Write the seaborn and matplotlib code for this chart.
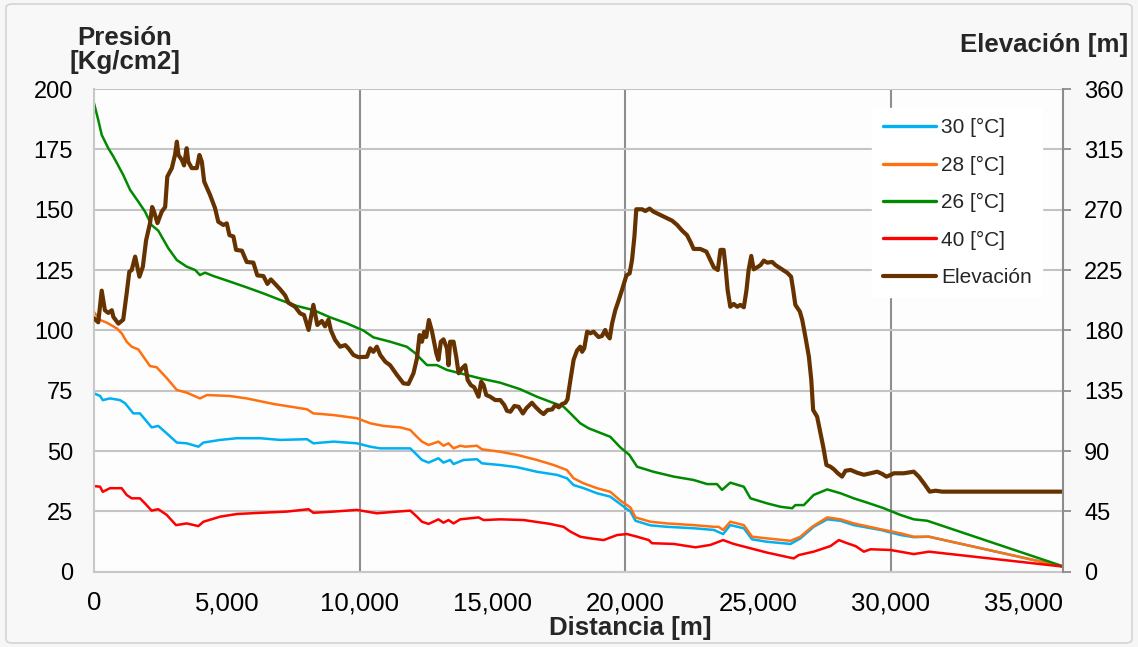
import matplotlib
matplotlib.use("Agg")
import matplotlib.pyplot as plt
from matplotlib.ticker import MultipleLocator, FixedLocator, FuncFormatter
from matplotlib.patches import FancyBboxPatch
import seaborn as sns

# ---------------- data ----------------
dist_elev = [0, 160, 290, 410, 540, 670, 730, 920, 1100, 1230,
             1330, 1420, 1550, 1710, 1840, 1960, 2110, 2190, 2260, 2390,
             2550, 2680, 2760, 2930, 3050, 3120, 3180, 3310, 3390, 3490,
             3550, 3680, 3870, 3970, 4060, 4150, 4370, 4560, 4680, 4870,
             5000, 5100, 5250, 5350, 5570, 5750, 6000, 6150, 6380, 6530,
             6660, 6820, 7010, 7200, 7320, 7570, 7760, 7910, 8080, 8260,
             8410, 8580, 8700, 8830, 8920, 9080, 9270, 9460, 9580, 9770,
             9960, 10280, 10400, 10520, 10650, 10780, 10970, 11150, 11410, 11650,
             11840, 12030, 12160, 12260, 12350, 12430, 12510, 12610, 12730, 12890,
             12970, 13060, 13160, 13290, 13350, 13410, 13540, 13640, 13730, 13860,
             13980, 14070, 14190, 14320, 14480, 14580, 14670, 14770, 14920, 15110,
             15300, 15450, 15550, 15680, 15830, 15990, 16150, 16280, 16490, 16620,
             16810, 16930, 17080, 17250, 17370, 17500, 17620, 17750, 17830, 17940,
             18060, 18190, 18310, 18380, 18460, 18570, 18690, 18810, 19000, 19130,
             19250, 19320, 19420, 19510, 19630, 19760, 19880, 20050, 20170, 20260,
             20350, 20420, 20640, 20760, 20920, 21070, 21330, 21580, 21770, 21960,
             22150, 22330, 22460, 22580, 22830, 23060, 23210, 23340, 23490, 23590,
             23710, 23780, 23860, 23960, 24090, 24220, 24340, 24470, 24570, 24650,
             24750, 24840, 24970, 25100, 25220, 25350, 25540, 25660, 25910, 26100,
             26250, 26330, 26410, 26580, 26670, 26790, 26920, 27010, 27080, 27230,
             27360, 27460, 27580, 27730, 27860, 28010, 28170, 28300, 28490, 28740,
             28990, 29240, 29490, 29680, 29840, 29990, 30120, 30490, 30870, 31060,
             31250, 31470, 31690, 31940, 36500]
elevacion = [189, 186, 209.6, 195, 193, 195, 190, 185, 188, 207.6,
             223.7, 225, 235, 220, 227.5, 247, 260, 272, 268.5, 260,
             268.5, 272, 294.6, 301, 310.8, 320.7, 310.8, 307, 303, 315.8,
             305.8, 301, 301, 310.8, 305.8, 290.9, 281, 271, 261, 258.6,
             259.8, 251, 250, 240, 239.4, 231, 230.5, 221, 220.5, 214.6,
             218, 214.6, 210.6, 206, 200.6, 197.6, 192.7, 191.4, 180.3, 199,
             184, 187, 183, 188, 180, 172.8, 167.8, 169, 166.6, 161.6,
             160, 160.3, 166.6, 164, 167.8, 161.6, 156.6, 154, 146.7, 140.5,
             140, 148, 159, 176.5, 171.5, 179, 175, 187.7, 179, 162.9,
             158, 171.5, 173.3, 166.6, 154, 171.5, 171.5, 160.3, 148, 151.7,
             154, 143, 139.2, 137.5, 130.5, 141.7, 139.2, 131.8, 130.5, 128,
             128, 124.3, 120, 119.3, 123.6, 123, 118, 121.9, 126, 123,
             119.3, 117.6, 120.6, 121, 124.3, 122.6, 125, 126, 128.6, 143,
             158, 165, 167.8, 164, 166.6, 179, 177.8, 179, 175, 175.8,
             180.3, 176.5, 174, 185.3, 195, 202.6, 210, 221, 222.5, 232.5,
             250, 270.3, 270.3, 269, 270.8, 268.5, 266, 263.6, 261.8, 258.6,
             254.3, 251, 246, 240.7, 240.7, 238.7, 232.5, 227, 225, 240,
             240, 227.5, 210, 197.6, 199.7, 197.6, 199, 197.2, 210, 225,
             235.5, 225.5, 227, 228.7, 232, 230.5, 231, 228.7, 225.5, 223,
             220, 210, 199, 194, 187.7, 175, 160.3, 143, 120.6, 115.6,
             103, 93.2, 79.6, 78.3, 76.4, 73.4, 70.9, 75.3, 75.9, 73.8,
             72.3, 73.4, 74.6, 72.9, 70.9, 72.1, 73.4, 73.4, 74.6, 70.9,
             65.9, 59.7, 60.4, 59.7, 59.7]

dist_30 = [0, 230, 330, 600, 980, 1170, 1480, 1730, 1990, 2170,
           2420, 2740, 3120, 3490, 3930, 4120, 4750, 5380, 6260, 7010,
           8020, 8260, 9020, 9900, 10400, 10780, 11910, 12160, 12350, 12600,
           12970, 13160, 13410, 13540, 13920, 14420, 14610, 15300, 15930, 16680,
           17440, 17810, 18060, 18440, 18940, 19440, 19820, 20200, 20390, 20950,
           21580, 22580, 23340, 23690, 23960, 24470, 24780, 25350, 26230, 26600,
           27100, 27610, 28110, 28610, 29620, 30370, 30870, 31440, 36500]
p_30 = [73.9, 72.8, 71.1, 71.8, 71.1, 69.8, 65.6, 65.6, 62.2, 59.8,
        60.4, 57.3, 53.5, 53.2, 51.8, 53.5, 54.6, 55.3, 55.3, 54.6,
        54.9, 53.2, 53.9, 53.2, 51.8, 51.1, 51.1, 48.4, 46.3, 45.2,
        47, 45.2, 46.3, 44.6, 46.3, 46.6, 44.9, 44.2, 43.3, 41.4,
        40.1, 38.7, 35.9, 34.6, 32.5, 31.1, 28, 24.9, 21.1, 19.2,
        18.6, 18, 17.3, 15.6, 19.3, 18, 13.4, 12.4, 11.5, 13.8,
        18.6, 21.7, 21.1, 19.3, 17.3, 15.2, 14.3, 14.5, 2.1]

dist_28 = [0, 230, 480, 860, 1040, 1230, 1420, 1670, 1860, 2110,
           2360, 2740, 3120, 3490, 3990, 4250, 5120, 5750, 6760, 8020,
           8260, 9020, 9900, 10400, 10900, 11530, 11910, 12160, 12350, 12600,
           12970, 13160, 13350, 13540, 13790, 13980, 14420, 14610, 15300, 15930,
           16680, 17310, 17810, 18060, 18440, 18940, 19440, 19820, 20200, 20390,
           20950, 21580, 22580, 23340, 23520, 23690, 23960, 24470, 24780, 25350,
           26230, 26600, 27040, 27610, 28110, 28610, 29620, 30370, 30870, 31440,
           36500]
p_28 = [107.6, 104.3, 103.2, 100.8, 98.8, 95.3, 93.2, 92.1, 89.1, 85.2,
        84.7, 80.2, 75.3, 74.2, 71.8, 73.2, 72.8, 71.8, 69.5, 67.3,
        65.6, 64.9, 63.6, 61.5, 60.4, 59.8, 58.7, 55.9, 53.9, 52.5,
        53.9, 52.2, 53.2, 51.1, 52.2, 51.8, 52.2, 50.7, 49.7, 48.4,
        46.3, 44.2, 42.1, 38.7, 36.6, 34.6, 33.1, 29.5, 26.6, 22.5,
        20.7, 20, 19.3, 18.6, 18.6, 17.3, 20.7, 19.3, 14.5, 13.8,
        12.8, 14.5, 18.6, 22.5, 21.7, 20, 17.6, 15.9, 14.5, 14.5,
        2.1]

dist_26 = [0, 160, 290, 540, 730, 1100, 1360, 1670, 1920, 2170,
           2420, 2800, 3120, 3490, 3810, 3990, 4180, 4500, 5120, 5750,
           6380, 7010, 7640, 8260, 8890, 9520, 10150, 10520, 11150, 11780,
           12100, 12350, 12540, 12910, 13290, 13790, 14540, 15300, 16050, 16680,
           17180, 17680, 17940, 18310, 18630, 19070, 19440, 19820, 20160, 20450,
           21070, 21830, 22580, 23090, 23460, 23650, 23960, 24470, 24720, 25350,
           25850, 26290, 26410, 26730, 27100, 27610, 28110, 28610, 29120, 29740,
           30370, 30870, 31380, 36500]
p_26 = [194.1, 187.2, 181, 175.4, 172, 164.4, 158.2, 153.3, 149.2, 143.6,
        141.3, 134, 129.1, 126.4, 125, 122.9, 123.9, 122.5, 120.2, 117.8,
        115.3, 112.6, 110.1, 108.4, 105.4, 102.9, 99.9, 97.1, 95.3, 93.2,
        90.5, 87.7, 85.6, 85.6, 83.6, 82.2, 80.1, 78.3, 75.6, 72.5,
        70.4, 68.4, 65.6, 61.5, 59.4, 57.5, 55.9, 51.5, 48.4, 43.5,
        41.4, 39.4, 38, 36.3, 36.3, 33.9, 36.9, 35.2, 30.4, 28.3,
        26.9, 26.3, 27.6, 27.6, 31.8, 34.1, 32.5, 30.4, 28.6, 26.3,
        23.5, 21.7, 21.1, 2.2]

dist_40 = [0, 230, 330, 600, 1040, 1230, 1420, 1730, 1920, 2170,
           2420, 2740, 3090, 3490, 3930, 4120, 4750, 5380, 6260, 7260,
           8080, 8260, 9020, 9900, 10650, 11410, 11910, 12160, 12350, 12600,
           12970, 13160, 13350, 13540, 13790, 14480, 14670, 15300, 16180, 17180,
           17680, 17940, 18310, 18690, 19190, 19700, 20070, 20450, 20890, 21010,
           21830, 22650, 23210, 23690, 24090, 24720, 25350, 26350, 26540, 27100,
           27730, 28050, 28360, 28680, 28990, 29240, 29990, 30870, 31440, 36500]
p_40 = [35.5, 35.2, 33.1, 34.6, 34.6, 31.8, 30.4, 30.4, 28.3, 25.3,
        25.9, 23.5, 19.3, 20, 18.9, 20.7, 22.8, 23.9, 24.4, 24.9,
        25.9, 24.4, 24.9, 25.6, 24.2, 24.9, 25.3, 22.8, 20.7, 19.8,
        21.7, 20.3, 21.4, 20, 21.7, 22.5, 21.4, 21.7, 21.4, 19.8,
        18.6, 16.6, 14.5, 13.8, 13.1, 15.2, 15.6, 14.5, 13.1, 11.8,
        11.5, 10.1, 11.1, 13.1, 11.5, 9.7, 7.9, 5.5, 6.9, 8.3,
        10.6, 13.1, 11.8, 10.6, 8.3, 9.3, 9, 7.3, 8.3, 2.1]

series_labels = ["30 [°C]", "28 [°C]", "26 [°C]", "40 [°C]"]
series_colors = ["#00b0f0", "#ff7010", "#008a00", "#ff0000"]
elev_label = "Elevación"
elev_color = "#663300"

pressure_ticks = list(range(0, 201, 25))
elev_ticks = list(range(0, 361, 45))

# ---------------- style ----------------
sns.set_style("white")
plt.rcParams["font.family"] = ["Liberation Sans", "DejaVu Sans"]

W, H = 1138, 647
fig = plt.figure(figsize=(W / 100, H / 100), dpi=100, facecolor="#f6f6f6")
fig.patches.append(FancyBboxPatch((6 / W, 4 / H), 1 - 12 / W, 1 - 8 / H,
                                  boxstyle="round,pad=0,rounding_size=0.006",
                                  transform=fig.transFigure, facecolor="#f8f8f8",
                                  edgecolor="#d4d4d4", linewidth=1.2, zorder=-5))

ax = fig.add_axes([94 / W, 75.3 / H, 969.3 / W, 482.7 / H])
ax.set_facecolor("#fdfdfd")
ax2 = ax.twinx()

pressure_x = [dist_30, dist_28, dist_26, dist_40]
pressure_y = [p_30, p_28, p_26, p_40]
for xs, ys, lab, col in zip(pressure_x, pressure_y, series_labels, series_colors):
    sns.lineplot(x=xs, y=ys, ax=ax, color=col, linewidth=1.8, label=lab,
                 estimator=None, sort=False)

sns.lineplot(x=dist_elev, y=elevacion, ax=ax2, color=elev_color, linewidth=3.0,
             label=elev_label, estimator=None, sort=False)

# ---------------- axes ----------------
ax.set_xlim(0, 36500)
ax.set_ylim(0, 200)
ax2.set_ylim(0, 360)
ax.set_yticks(pressure_ticks)
ax2.set_yticks(elev_ticks)

# vertical grid every 10 000 m, labels every 5 000 m
ax.xaxis.set_major_locator(FixedLocator([10000, 20000, 30000]))
ax.xaxis.set_minor_locator(MultipleLocator(5000))
fmt = FuncFormatter(lambda v, p: f"{int(v):,}")
ax.xaxis.set_major_formatter(fmt)
ax.xaxis.set_minor_formatter(fmt)

ax.set_axisbelow(True)
ax.grid(axis="y", color="#c4c4c4", linewidth=1.5)
ax.grid(axis="x", which="major", color="#8e8e8e", linewidth=1.5)
ax.grid(axis="x", which="minor", visible=False)

for s in ["top", "right"]:
    ax.spines[s].set_visible(False)
for s in ["left", "bottom"]:
    ax.spines[s].set_color("#c8c8c8")
    ax.spines[s].set_linewidth(1.5)
for s in ["left", "top", "bottom"]:
    ax2.spines[s].set_visible(False)
ax2.spines["right"].set_color("#8c8c8c")
ax2.spines["right"].set_linewidth(1.5)

ax.tick_params(axis="y", which="both", length=0, pad=15, labelsize=17, labelcolor="black")
ax.tick_params(axis="x", which="both", length=0, pad=14, labelsize=18.5, labelcolor="black")
ax2.tick_params(axis="y", length=6, width=1.3, color="#8c8c8c", direction="out",
                pad=9, labelsize=17, labelcolor="black")
ax.set_xlabel("")
ax.set_ylabel("")
ax2.set_ylabel("")

# ---------------- legend ----------------
h1, l1 = ax.get_legend_handles_labels()
h2, l2 = ax2.get_legend_handles_labels()
if ax.get_legend() is not None:
    ax.get_legend().remove()
leg = ax2.legend(h1 + h2, l1 + l2, loc="upper right",
                 bbox_to_anchor=(1042 / W, 1 - 108 / H), bbox_transform=fig.transFigure,
                 frameon=True, fancybox=False, framealpha=1, facecolor="white",
                 edgecolor="white", fontsize=15, handlelength=2.55,
                 handletextpad=0.25, labelspacing=0.88, borderpad=0.5,
                 borderaxespad=0)
for line in leg.get_lines()[:4]:
    line.set_linewidth(2.4)

# ---------------- titles ----------------
fig.text(125 / W, 1 - 50 / H, "Presión\n[Kg/cm2]", ha="center", va="center",
         fontsize=18.6, fontweight="bold", linespacing=1.05)
fig.text(1128 / W, 1 - 45 / H, "Elevación [m]", ha="right", va="center",
         fontsize=18.6, fontweight="bold")
fig.text(630 / W, 1 - 628 / H, "Distancia [m]", ha="center", va="center",
         fontsize=18.6, fontweight="bold")

fig.savefig("out.png", dpi=100, facecolor=fig.get_facecolor())
